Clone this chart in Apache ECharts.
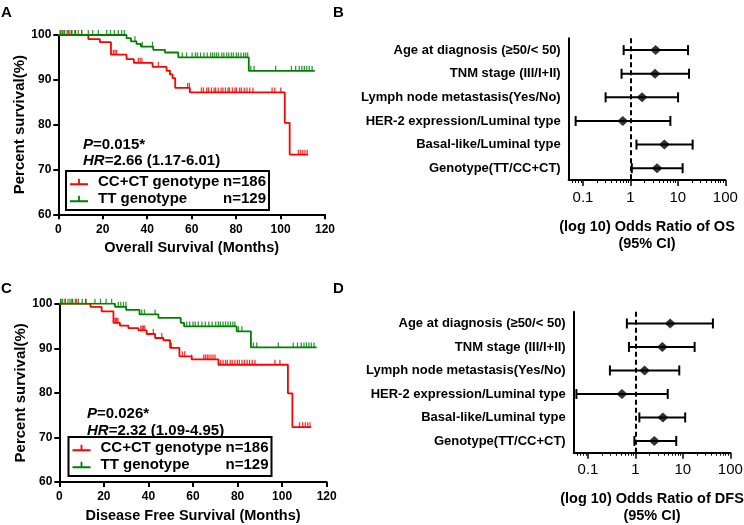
<!DOCTYPE html>
<html>
<head>
<meta charset="utf-8">
<script src="https://cdn.jsdelivr.net/npm/echarts@6/dist/echarts.min.js"></script>
<style>
  html, body { margin: 0; background: #fff; }
  #chart { width: 744px; height: 525px; }
</style>
</head>
<body>
<div id="chart"></div>
<script>
const FONT = '"Liberation Sans", Arial, sans-serif'
const RED = '#ff0000'
const GREEN = '#008000'

// Kaplan-Meier steps [month, percent] and censor times (months)
const osRiskSteps = [[0, 100], [13.5, 99.1], [18.7, 98.4], [23.7, 95.6], [30.7, 94.6], [34, 93.8], [42.4, 92.9], [48.7, 92.0], [50.2, 91.2], [51.4, 90.4], [52.6, 88.2], [59.2, 87.2], [101.9, 80.4], [104.1, 73.3], [112.4, 73.3]]
const osRiskCensored = [1.2, 2.5, 4.5, 6, 7.8, 10.5, 24.8, 25.5, 26.2, 36, 36.8, 37.6, 45, 50.2, 58.2, 59, 64.4, 65.3, 66.8, 67.6, 68.9, 70.1, 70.8, 72, 73.3, 74.1, 75.2, 76.4, 77, 78.3, 79.5, 80.2, 81.6, 82.4, 83.7, 84.9, 86.1, 87.6, 96.2, 97.4, 100.1, 108, 109, 110, 111, 112]
const osTTSteps = [[0, 100], [30.7, 99.3], [32.7, 98.6], [35.2, 98.0], [37.2, 97.4], [42.7, 96.7], [48, 96.1], [54, 95.0], [85.7, 92.0], [115.4, 92.0]]
const osTTCensored = [0.8, 1.8, 2.9, 4, 5.2, 6.1, 7.4, 9, 10.5, 13.5, 15.5, 18, 21.8, 23.5, 25.2, 27, 28.5, 29.7, 34.5, 37.8, 42.4, 55.8, 57.7, 60.2, 61.7, 62.6, 64, 65.5, 67, 68.5, 69.4, 70.3, 71.2, 72.1, 73.6, 74.5, 75.8, 76.7, 77.9, 78.8, 80.1, 81, 82.2, 83.4, 84.3, 85.2, 86.6, 88.1, 97.8, 104.9, 106.8, 108.4, 109.6, 110.7, 111.8, 112.9, 114.2]

const dfsRiskSteps = [[0, 100], [14, 99.3], [19, 98.3], [24.3, 95.7], [27.2, 95.1], [31, 94.5], [35.5, 94.0], [39.2, 93.2], [43, 92.3], [46.7, 91.8], [49.7, 90.1], [53.9, 88.2], [59.4, 87.5], [71.4, 86.3], [102.6, 79.9], [104.6, 72.3], [113, 72.3]]
const dfsRiskCensored = [0.8, 2.6, 5.6, 7.8, 11.8, 25, 25.4, 25.8, 26.3, 36.6, 37.2, 37.8, 38.4, 42.2, 46, 50.3, 55.2, 56.3, 59.4, 64.8, 65.6, 66.4, 67.2, 68.1, 69, 69.9, 72.4, 73.5, 74.6, 75.4, 76.7, 77.6, 78.8, 79.9, 80.8, 82, 83.1, 84.3, 85.4, 86.6, 87.8, 96.8, 99, 107.8, 109.2, 110.4, 111.5, 112.5]
const dfsTTSteps = [[0, 100], [25, 99.3], [30, 98.6], [36, 97.6], [44.5, 96.8], [54.5, 95.7], [56, 94.9], [79.6, 93.8], [86, 90.2], [115.5, 90.2]]
const dfsTTCensored = [0.6, 1.5, 2.7, 3.9, 4.8, 6, 7.2, 8.6, 10.3, 12, 16, 18.5, 21, 23.5, 26.5, 27.6, 28.8, 29.9, 37, 38.2, 43, 57.2, 58.5, 60, 61, 62.4, 64, 65.5, 67.1, 68.6, 70.2, 71.4, 72.3, 73.5, 74.6, 75.7, 76.8, 77.9, 78.8, 80.4, 81.9, 87.1, 88.6, 98.3, 105, 106.9, 108.6, 109.8, 110.9, 112, 113.1, 114.3]

const groups = ['CC+CT genotype', 'TT genotype']
const groupSizes = [186, 129]

// forest plots
const factors = ['Age at diagnosis (≥50/< 50)', 'TNM stage (III/I+II)', 'Lymph node metastasis(Yes/No)', 'HER-2 expression/Luminal type', 'Basal-like/Luminal type', 'Genotype(TT/CC+CT)']
const osOdds = [3.4, 3.3, 1.76, 0.69, 5.2, 3.64]
const osLower = [0.72, 0.65, 0.30, 0.07, 1.34, 1.07]
const osUpper = [16.4, 17.2, 10.1, 6.95, 20.5, 12.6]
const dfsOdds = [5.4, 3.7, 1.56, 0.52, 3.8, 2.5]
const dfsLower = [0.66, 0.73, 0.29, 0.057, 1.21, 0.95]
const dfsUpper = [43, 17.7, 8.4, 4.8, 11.2, 7.25]

const logMajorTicks = [0.1, 1, 10, 100]
const logMinorTicks = [0.06, 0.07, 0.08, 0.09, 0.2, 0.3, 0.4, 0.5, 0.6, 0.7, 0.8, 0.9, 2, 3, 4, 5, 6, 7, 8, 9, 20, 30, 40, 50, 60, 70, 80, 90]

function levelAt(steps, t) {
  let v = steps[0][1]
  for (const [x, y] of steps) if (x <= t) v = y
  return v
}

const CENSOR_ICON = 'path://M0,6h20v2h-20z M9,1h2v5h-2z'

function kmSeries(name, steps, censored, color, xIdx, yIdx) {
  return [
    {
      name, type: 'line', step: 'end', xAxisIndex: xIdx, yAxisIndex: yIdx,
      data: steps, showSymbol: false, lineStyle: { color, width: 1.8 }, itemStyle: { color },
      z: 3,
    },
    {
      name: name + ' censored', type: 'scatter', xAxisIndex: xIdx, yAxisIndex: yIdx,
      data: censored.map((t) => [t, levelAt(steps, t)]),
      symbol: 'rect', symbolSize: [1.3, 5], symbolOffset: [0, -2.5],
      itemStyle: { color }, z: 4,
    },
  ]
}

function kmXAxis(grid, name) {
  return {
    type: 'value', gridIndex: grid, min: 0, max: 120, interval: 20,
    name, nameLocation: 'middle', nameGap: 26,
    nameTextStyle: { fontSize: 14.5, fontWeight: 'bold', color: '#000', fontFamily: FONT },
    axisLine: { onZero: false, lineStyle: { color: '#000', width: 2 } },
    axisTick: { length: 5, lineStyle: { width: 2, color: '#000' } },
    axisLabel: { fontSize: 12, fontWeight: 'bold', color: '#000', fontFamily: FONT, margin: 9 },
    splitLine: { show: false },
  }
}

function kmYAxis(grid) {
  return {
    type: 'value', gridIndex: grid, min: 60, max: 100, interval: 10,
    name: 'Percent survival(%)', nameLocation: 'middle', nameGap: 31,
    nameTextStyle: { fontSize: 15, fontWeight: 'bold', color: '#000', fontFamily: FONT },
    axisLine: { show: true, onZero: false, lineStyle: { color: '#000', width: 2 } },
    axisTick: { show: true, length: 5, lineStyle: { width: 2, color: '#000' } },
    axisLabel: { fontSize: 12, fontWeight: 'bold', color: '#000', fontFamily: FONT, margin: 7 },
    splitLine: { show: false },
  }
}

function forestXAxes(grid, name) {
  return [
    {
      type: 'log', logBase: 10, gridIndex: grid, min: 0.05, max: 100, position: 'bottom',
      name, nameLocation: 'middle', nameGap: 38,
      nameTextStyle: { fontSize: 14.5, fontWeight: 'bold', color: '#000', fontFamily: FONT, lineHeight: 17 },
      axisLine: { show: true, onZero: false, lineStyle: { color: '#000', width: 2 } },
      axisTick: { show: true, length: 6, customValues: logMajorTicks, lineStyle: { width: 1.5, color: '#000' } },
      axisLabel: { customValues: logMajorTicks, fontSize: 15, color: '#000', fontFamily: FONT, margin: 10,
        formatter: (v) => String(v) },
      splitLine: { show: false },
    },
    {
      type: 'log', logBase: 10, gridIndex: grid, min: 0.05, max: 100, position: 'bottom',
      axisLine: { show: false, onZero: false },
      axisTick: { show: true, length: 3, customValues: logMinorTicks, lineStyle: { width: 1, color: '#000' } },
      axisLabel: { show: false },
      splitLine: { show: false },
    },
  ]
}

function forestYAxis(grid) {
  return {
    type: 'category', gridIndex: grid, data: factors, inverse: true,
    axisLine: { lineStyle: { color: '#000', width: 2 } },
    axisTick: { alignWithLabel: true, length: 6, lineStyle: { width: 2, color: '#000' } },
    axisLabel: { interval: 0, fontSize: 13, fontWeight: 'bold', color: '#000', fontFamily: FONT, margin: 8 },
    splitLine: { show: false },
  }
}

function errorBarItem(params, api) {
  const row = api.value(2)
  const lo = api.coord([api.value(0), row])
  const hi = api.coord([api.value(1), row])
  const cap = 5
  const style = { stroke: '#000', lineWidth: 2 }
  return {
    type: 'group',
    children: [
      { type: 'line', shape: { x1: lo[0], y1: lo[1], x2: hi[0], y2: hi[1] }, style },
      { type: 'line', shape: { x1: lo[0], y1: lo[1] - cap, x2: lo[0], y2: lo[1] + cap }, style },
      { type: 'line', shape: { x1: hi[0], y1: hi[1] - cap, x2: hi[0], y2: hi[1] + cap }, style },
    ],
  }
}

function forestSeries(odds, lower, upper, xIdx, yIdx) {
  return [
    {
      type: 'custom', xAxisIndex: xIdx, yAxisIndex: yIdx,
      data: factors.map((f, i) => [lower[i], upper[i], i]),
      encode: { x: [0, 1], y: 2 },
      renderItem: errorBarItem, z: 3,
    },
    {
      type: 'scatter', xAxisIndex: xIdx, yAxisIndex: yIdx,
      data: factors.map((f, i) => [odds[i], i]),
      symbol: 'diamond', symbolSize: [11, 10], itemStyle: { color: '#000' }, z: 4,
      markLine: {
        silent: true, symbol: 'none', label: { show: false },
        lineStyle: { type: [5, 3], color: '#000', width: 2 },
        data: [{ xAxis: 1 }],
      },
    },
  ]
}

function statText(left, top, p, hr) {
  const rich = { i: { fontStyle: 'italic', fontWeight: 'bold', fontSize: 15, fontFamily: FONT, color: '#000' },
    n: { fontWeight: 'bold', fontSize: 15, fontFamily: FONT, color: '#000' } }
  return [
    { text: `{i|P}{n|=${p}}`, left, top, padding: 0, textStyle: { rich } },
    { text: `{i|HR}{n|=${hr}}`, left, top: top + 16.5, padding: 0, textStyle: { rich } },
  ]
}

function panelLetter(text, left, top) {
  return { text, left, top, padding: 0, textStyle: { fontSize: 15, fontWeight: 'bold', color: '#000', fontFamily: FONT } }
}

function kmLegend(top, left) {
  return {
    orient: 'vertical', left, top, padding: [3, 3, 3, 4], itemGap: 1, itemWidth: 18, itemHeight: 8,
    borderColor: '#000', borderWidth: 2, selectedMode: false,
    data: groups.map((g) => ({ name: g, icon: CENSOR_ICON })),
    formatter: (name) => `{a|${name}}{b|n=${groupSizes[groups.indexOf(name)]}}`,
    textStyle: {
      fontSize: 15, fontWeight: 'bold', color: '#000', fontFamily: FONT, lineHeight: 16,
      rich: {
        a: { width: 124, padding: [0, 0, 0, 5], fontSize: 15, fontWeight: 'bold', fontFamily: FONT, color: '#000' },
        b: { width: 44, align: 'right', fontSize: 15, fontWeight: 'bold', fontFamily: FONT, color: '#000' },
      },
    },
  }
}

const chart = echarts.init(document.getElementById('chart'), null, { renderer: 'canvas' })
chart.setOption({
  animation: false,
  backgroundColor: '#fff',
  title: [
    panelLetter('A', 1, 5), panelLetter('B', 333, 5),
    panelLetter('C', 1, 281), panelLetter('D', 333, 281),
    ...statText(83, 137, '0.015*', '2.66 (1.17-6.01)'),
    ...statText(87, 406.5, '0.026*', '2.32 (1.09-4.95)'),
  ],
  legend: [kmLegend(171, 66), kmLegend(437, 68.5)],
  grid: [
    { left: 58.3, top: 35, width: 266.7, height: 179.3, outerBoundsMode: 'none' },
    { left: 568.7, top: 38.3, width: 156.6, height: 141.7, outerBoundsMode: 'none' },
    { left: 59.3, top: 303.7, width: 267.4, height: 178.3, outerBoundsMode: 'none' },
    { left: 573.7, top: 311.7, width: 156.6, height: 141, outerBoundsMode: 'none' },
  ],
  xAxis: [
    kmXAxis(0, 'Overall Survival (Months)'),
    ...forestXAxes(1, '(log 10) Odds Ratio of OS\n(95% CI)'),
    kmXAxis(2, 'Disease Free Survival (Months)'),
    ...forestXAxes(3, '(log 10) Odds Ratio of DFS\n(95% CI)'),
  ],
  yAxis: [kmYAxis(0), forestYAxis(1), kmYAxis(2), forestYAxis(3)],
  series: [
    ...kmSeries(groups[0], osRiskSteps, osRiskCensored, RED, 0, 0),
    ...kmSeries(groups[1], osTTSteps, osTTCensored, GREEN, 0, 0),
    ...forestSeries(osOdds, osLower, osUpper, 1, 1),
    ...kmSeries(groups[0], dfsRiskSteps, dfsRiskCensored, RED, 3, 2),
    ...kmSeries(groups[1], dfsTTSteps, dfsTTCensored, GREEN, 3, 2),
    ...forestSeries(dfsOdds, dfsLower, dfsUpper, 4, 3),
  ],
})
</script>
</body>
</html>
